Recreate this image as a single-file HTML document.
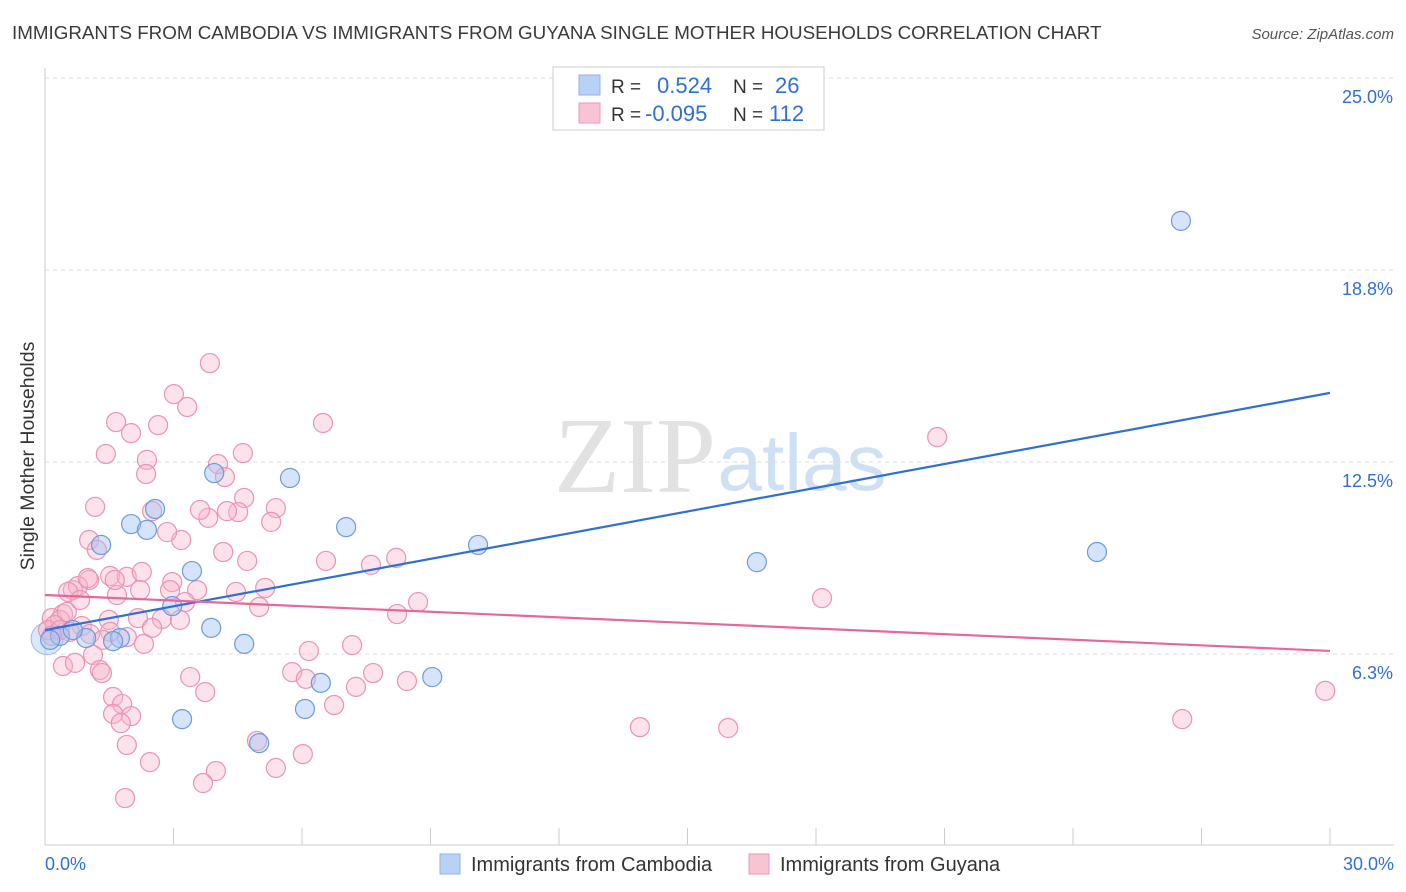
<!DOCTYPE html>
<html><head><meta charset="utf-8"><style>
body{margin:0;background:#fff;font-family:"Liberation Sans",sans-serif;}
#wrap{position:relative;width:1406px;height:892px;overflow:hidden;}
</style></head><body>
<div id="wrap">
<svg id="svg" width="1406" height="892" xmlns="http://www.w3.org/2000/svg">
<text x="12" y="39" font-size="18.8" fill="#3a3a3a">IMMIGRANTS FROM CAMBODIA VS IMMIGRANTS FROM GUYANA SINGLE MOTHER HOUSEHOLDS CORRELATION CHART</text>
<text x="1394" y="39" font-size="15" fill="#555" font-style="italic" text-anchor="end">Source: ZipAtlas.com</text>
<text transform="translate(34,456) rotate(-90)" font-size="19.5" fill="#333" text-anchor="middle">Single Mother Households</text>
<g id="grid"></g>
<g>
<text x="635" y="492" font-size="108" font-family="Liberation Serif,serif" fill="#e2e2e2" text-anchor="middle">ZIP</text>
<text x="802" y="490" font-size="80" fill="#cfe0f5" text-anchor="middle">atlas</text>
</g>
<g id="pts"></g>
<g id="lines"></g>
<g>
<rect x="553" y="67" width="271" height="63" fill="#fff" stroke="#ccc"/>
<rect x="579" y="75" width="21" height="20" fill="#b9d1f5" stroke="#8fb2e8"/>
<rect x="579" y="103" width="21" height="20" fill="#f8c3d3" stroke="#eb9ab6"/>
<text x="611" y="93" font-size="19" fill="#333">R =</text>
<text x="657" y="93" font-size="22" fill="#2f6fd6">0.524</text>
<text x="733" y="93" font-size="19" fill="#333">N =</text>
<text x="775" y="93" font-size="22" fill="#2f6fd6">26</text>
<text x="611" y="121" font-size="19" fill="#333">R =</text>
<text x="645" y="121" font-size="22" fill="#2f6fd6">-0.095</text>
<text x="733" y="121" font-size="19" fill="#333">N =</text>
<text x="769" y="121" font-size="22" fill="#2f6fd6">112</text>
</g>
<g>
<rect x="440" y="854" width="20" height="20" fill="#b9d1f5" stroke="#8fb2e8"/>
<text x="471" y="871" font-size="20" fill="#333">Immigrants from Cambodia</text>
<rect x="749" y="854" width="20" height="20" fill="#f8c3d3" stroke="#eb9ab6"/>
<text x="780" y="871" font-size="20" fill="#333">Immigrants from Guyana</text>
</g>
</svg>
</div>
<script>
const yTicks=[6.25,12.5,18.75,25];
const yTickLabels=["6.3%","12.5%","18.8%","25.0%"];
const xTickLabels=["0.0%","30.0%"];
const blueX=[26.52,5.72,3.95,2.57,2.01,2.38,7.03,1.31,10.11,24.56,16.62,3.43,2.97,3.88,1.75,1.59,0.96,0.35,0.12,4.65,6.44,9.04,6.07,3.20,5.00,0.65];
const blueY=[20.35,11.98,12.14,10.97,10.48,10.29,10.38,9.80,9.80,9.57,9.24,8.95,7.81,7.10,6.77,6.67,6.77,6.84,6.71,6.58,5.31,5.50,4.46,4.13,3.35,7.03];
const blueBigX=[0.05];
const blueBigY=[6.75];
const pinkX=[3.85,3.01,3.32,1.66,2.01,2.64,6.49,1.42,2.38,4.62,2.36,4.04,4.20,20.83,1.17,2.50,4.65,5.39,3.81,4.51,4.25,3.62,5.28,1.03,1.21,3.18,2.85,4.16,4.72,6.56,7.61,8.20,1.03,1.52,1.91,2.26,2.97,2.92,3.55,5.14,4.46,1.68,0.65,0.77,0.54,1.00,18.14,8.71,5.00,8.22,3.27,2.73,3.15,2.17,2.50,1.49,0.86,0.42,0.16,0.35,0.51,0.23,0.07,1.05,1.52,1.91,1.35,2.31,7.17,6.16,1.12,0.42,0.70,1.28,1.33,3.39,5.77,6.09,7.66,7.26,8.45,3.74,1.59,1.80,1.59,2.01,1.77,6.75,13.89,15.95,26.55,29.89,1.91,4.95,2.45,6.02,3.99,5.39,3.69,1.87,0.35,0.58,0.16,0.82,1.63,2.22];
const pinkY=[15.72,14.71,14.29,13.80,13.44,13.70,13.77,12.76,12.57,12.79,12.11,12.43,12.01,13.31,11.04,10.90,11.33,11.00,10.68,10.87,10.90,10.94,10.55,9.96,9.64,9.96,10.22,9.57,9.28,9.28,9.15,9.38,8.66,8.79,8.76,8.92,8.59,8.33,8.33,8.40,8.27,8.17,8.33,8.46,8.27,8.72,8.07,7.94,7.78,7.55,7.94,7.39,7.36,7.42,7.10,7.36,7.16,7.55,7.42,7.36,7.62,7.19,7.03,6.90,6.97,6.80,6.71,6.58,6.54,6.35,6.22,5.86,5.96,5.73,5.63,5.50,5.66,5.44,5.63,5.18,5.37,5.01,4.85,4.62,4.30,4.23,4.00,4.59,3.87,3.84,4.13,5.05,3.29,3.42,2.73,2.99,2.44,2.54,2.05,1.56,7.03,6.97,6.84,8.01,8.66,8.33];
const trendX=[0,30];
const blueTrend=[7.03,14.75];
const pinkTrend=[8.17,6.35];

const NS="http://www.w3.org/2000/svg";
const X0=45,X1=1330,Y0=846,Y25=78;
function sx(v){return X0+(X1-X0)*v/30;}
function sy(v){return Y0-(Y0-Y25)*v/25;}
function mk(tag,attrs,parent){const e=document.createElementNS(NS,tag);for(const k in attrs)e.setAttribute(k,attrs[k]);parent.appendChild(e);return e;}
const grid=document.getElementById('grid');
yTicks.forEach((t,i)=>{
  const l=mk('line',{x1:45,x2:1394,y1:sy(t),y2:sy(t),stroke:'#ddd','stroke-dasharray':'4,4'},grid);
  
  
  const tx=mk('text',{x:1393,y:sy(t)+25,'font-size':18,fill:'#2f6fd6','text-anchor':'end'},grid);
  tx.textContent=yTickLabels[i];
  
  
});
const ax=mk('line',{x1:45,x2:1394,y1:845,y2:845,stroke:'#ccc'},grid);


const ay=mk('line',{x1:45,x2:45,y1:68,y2:845,stroke:'#ccc'},grid);


for(let k=0;k<=10;k++){
  const t=mk('line',{x1:sx(k*3),x2:sx(k*3),y1:828,y2:845,stroke:'#ccc'},grid);
  
  
}
[0,30].forEach((v,i)=>{
  const t=mk('text',{x:i?1394:45,y:870,'font-size':18,fill:'#2f6fd6','text-anchor':i?'end':'start'},grid);
  t.textContent=xTickLabels[i];
  
  
});
const pts=document.getElementById('pts');
blueBigX.forEach((x,i)=>{
  const c=mk('circle',{cx:sx(x),cy:sy(blueBigY[i]),r:16,fill:'rgba(164,196,244,0.4)',stroke:'#9bbbe8','stroke-width':1},pts);
  
  
});
pinkX.forEach((x,i)=>{
  const c=mk('circle',{cx:sx(x),cy:sy(pinkY[i]),r:9.5,fill:'rgba(248,182,202,0.4)',stroke:'#eb93b2','stroke-width':1.2},pts);
  
  
});
blueX.forEach((x,i)=>{
  const c=mk('circle',{cx:sx(x),cy:sy(blueY[i]),r:9.5,fill:'rgba(164,196,244,0.45)',stroke:'#6a9be0','stroke-width':1.2},pts);
  
  
});
const lines=document.getElementById('lines');
const bl=mk('line',{x1:sx(trendX[0]),y1:sy(blueTrend[0]),x2:sx(trendX[1]),y2:sy(blueTrend[1]),stroke:'#2f6fd6','stroke-width':2.2},lines);


const pl=mk('line',{x1:sx(trendX[0]),y1:sy(pinkTrend[0]),x2:sx(trendX[1]),y2:sy(pinkTrend[1]),stroke:'#e8679a','stroke-width':2.2},lines);


</script>
</body></html>
